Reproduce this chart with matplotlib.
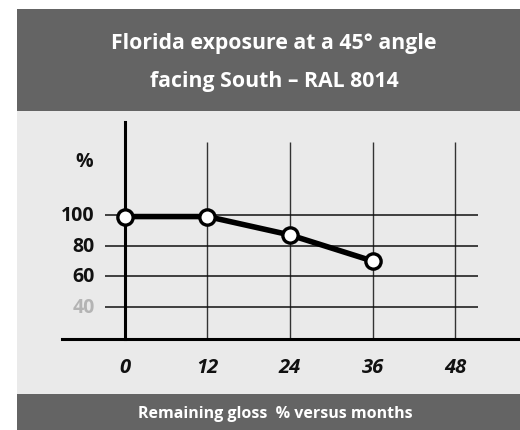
import matplotlib.pyplot as plt
from matplotlib.patches import Rectangle

months = [0, 12, 24, 36]
gloss = [99, 99, 87, 70]
x_ticks = [0, 12, 24, 36, 48]
y_ticks = [100, 80, 60, 40]
y_tick_colors = ['#111111', '#111111', '#111111', '#b4b4b4']

title_lines = ["Florida exposure at a 45° angle", "facing South – RAL 8014"]
footer = "Remaining gloss  % versus months"

W, H = 520, 431
fig = plt.figure(figsize=(W / 100, H / 100), dpi=100)
fig.patch.set_facecolor('white')

def fx(px):
    return px / W

def fy(py):
    return 1 - py / H

# background panels (pixel boxes)
def box(x0, y0, x1, y1, color):
    fig.add_artist(Rectangle((fx(x0), fy(y1)), fx(x1) - fx(x0), fy(y0) - fy(y1),
                             transform=fig.transFigure, facecolor=color,
                             edgecolor='none', zorder=-1))

box(17, 10, 520, 112, '#646464')
box(17, 112, 520, 395, '#eaeaea')
box(17, 395, 520, 431, '#646464')

font = 'Open Sans'
for line, py in zip(title_lines, [44, 82]):
    fig.text(fx(274), fy(py), line, ha='center', va='center', color='white',
             fontsize=15.3, fontweight='bold', family=font)
fig.text(fx(275), fy(414), footer, ha='center', va='center', color='white',
         fontsize=11.5, fontweight='bold', family=font)

# data axes: px 62..520 horizontally, 123..340 vertically
ax = fig.add_axes([fx(62), fy(340), fx(520) - fx(62), fy(123) - fy(340)])
ax.set_facecolor('none')
ax.set_zorder(1)
ax.set_xlim(-9.16, 57.45)
ax.set_ylim(19.1, 160.7)

for s in ['top', 'right']:
    ax.spines[s].set_visible(False)
ax.spines['left'].set_position(('data', 0))
ax.spines['left'].set_linewidth(2.2)
ax.spines['bottom'].set_linewidth(2.2)
ax.set_xticks([])
ax.set_yticks([])

# grid
ax.vlines(x_ticks[1:], 19.1, 147.6, color='#333333', linewidth=1.0, zorder=1)
ax.hlines(y_ticks, -2.9, 51.3, color='#111111', linewidth=1.1, zorder=1)

ax.plot(months, gloss, color='black', linewidth=4.0, marker='o',
        markersize=11, markerfacecolor='white', markeredgecolor='black',
        markeredgewidth=2.4, zorder=3, clip_on=False)

for v, c in zip(y_ticks, y_tick_colors):
    ax.text(-4.4, v, str(v), ha='right', va='center', color=c,
            fontsize=14, fontweight='bold', family=font)
ax.text(-4.6, 135, '%', ha='right', va='center', color='#111111',
        fontsize=14, fontweight='bold', family=font)

for m in x_ticks:
    ax.text(m, 1, str(m), ha='center', va='center', color='#111111',
            fontsize=14.5, fontweight='bold', fontstyle='italic', family=font)

fig.savefig('out.png', dpi=100)
